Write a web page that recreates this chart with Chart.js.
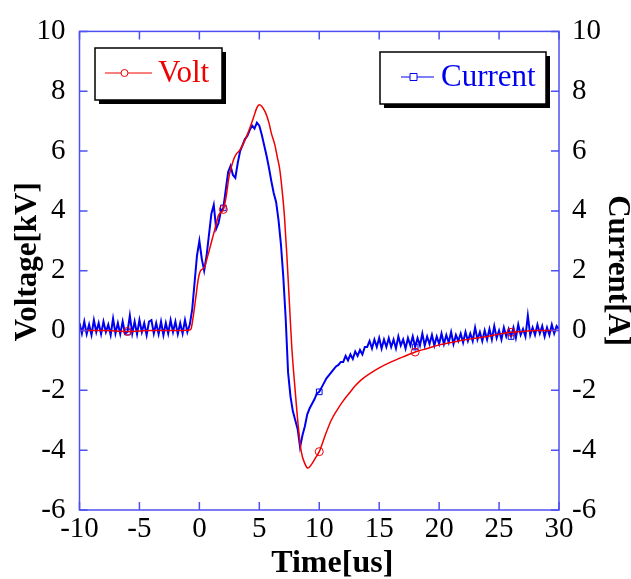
<!DOCTYPE html>
<html>
<head>
<meta charset="utf-8">
<title>Voltage / Current waveform</title>
<script src="https://cdn.jsdelivr.net/npm/chart.js@4.4.1/dist/chart.umd.min.js"></script>
<style>
    html, body { margin: 0; padding: 0; background: #fff; }
    #wrap { width: 631px; height: 579px; }
</style>
</head>
<body>
<div id="wrap"><canvas id="grafico" width="631" height="579"></canvas></div>
<script>
// ── DATA ──────────────────────────────────────
// Voltage trace (kV)
const voltTime = [-10, -8, -6, -4, -2, -0.8, -0.7, -0.5, -0.3, -0.1,
    0.1, 0.4, 0.7, 1.0, 1.3, 1.6, 2.0, 2.2, 2.5, 2.8,
    3.0, 3.4, 4.0, 4.5, 4.8, 5.0, 5.2, 5.5, 5.8, 6.0,
    6.3, 6.5, 6.7, 6.9, 7.1, 7.3, 7.5, 7.7, 8.0, 8.25,
    8.5, 8.8, 9.05, 9.4, 9.7, 10, 10.5, 11, 11.5, 12,
    12.5, 13, 13.5, 14, 15, 16, 17, 18, 19, 20,
    21, 22, 23, 24, 25, 26, 27, 28, 29, 30];
const volt = [0, 0, -0.03, 0, 0, 0.02, 0.05, 0.5, 1.1, 1.7,
    2.0, 2.1, 2.5, 2.95, 3.4, 3.85, 4.05, 4.4, 5.2, 5.65,
    5.85, 6.05, 6.55, 7.1, 7.45, 7.55, 7.5, 7.3, 6.95, 6.6,
    6.2, 5.8, 5.4, 4.7, 3.8, 2.5, 1.0, -0.5, -2.05, -3.2,
    -4.05, -4.45, -4.6, -4.45, -4.25, -4.05, -3.5, -3.0, -2.65, -2.35,
    -2.1, -1.85, -1.65, -1.5, -1.25, -1.05, -0.88, -0.72, -0.6, -0.48,
    -0.4, -0.32, -0.26, -0.2, -0.12, -0.06, -0.03, 0, 0, 0];

// Current trace (A), sampled every 0.2 us
const currentTime = [
    -10, -9.8, -9.6, -9.4, -9.2, -9, -8.8, -8.6, -8.4, -8.2,
    -8, -7.8, -7.6, -7.4, -7.2, -7, -6.8, -6.6, -6.4, -6.2,
    -6, -5.8, -5.6, -5.4, -5.2, -5, -4.8, -4.6, -4.4, -4.2,
    -4, -3.8, -3.6, -3.4, -3.2, -3, -2.8, -2.6, -2.4, -2.2,
    -2, -1.8, -1.6, -1.4, -1.2, -1, -0.8, -0.6, -0.4, -0.2,
    0, 0.2, 0.4, 0.6, 0.8, 1, 1.2, 1.4, 1.6, 1.8,
    2, 2.2, 2.4, 2.6, 2.8, 3, 3.2, 3.4, 3.6, 3.8,
    4, 4.2, 4.4, 4.6, 4.8, 5, 5.2, 5.4, 5.6, 5.8,
    6, 6.2, 6.4, 6.6, 6.8, 7, 7.2, 7.4, 7.6, 7.8,
    8, 8.2, 8.4, 8.6, 8.8, 9, 9.2, 9.4, 9.6, 9.8,
    10, 10.2, 10.4, 10.6, 10.8, 11, 11.2, 11.4, 11.6, 11.8,
    12, 12.2, 12.4, 12.6, 12.8, 13, 13.2, 13.4, 13.6, 13.8,
    14, 14.2, 14.4, 14.6, 14.8, 15, 15.2, 15.4, 15.6, 15.8,
    16, 16.2, 16.4, 16.6, 16.8, 17, 17.2, 17.4, 17.6, 17.8,
    18, 18.2, 18.4, 18.6, 18.8, 19, 19.2, 19.4, 19.6, 19.8,
    20, 20.2, 20.4, 20.6, 20.8, 21, 21.2, 21.4, 21.6, 21.8,
    22, 22.2, 22.4, 22.6, 22.8, 23, 23.2, 23.4, 23.6, 23.8,
    24, 24.2, 24.4, 24.6, 24.8, 25, 25.2, 25.4, 25.6, 25.8,
    26, 26.2, 26.4, 26.6, 26.8, 27, 27.2, 27.4, 27.6, 27.8,
    28, 28.2, 28.4, 28.6, 28.8, 29, 29.2, 29.4, 29.6, 29.8,
    30];
const current = [
    0.25, -0.1, 0.3, -0.12, 0.2, -0.15, 0.35, -0.05, 0.25, -0.12,
    0.3, -0.05, 0.2, -0.15, 0.4, -0.1, 0.25, -0.12, 0.3, -0.1,
    -0.05, 0.5, -0.1, 0.3, -0.12, 0.35, -0.05, 0.25, -0.15, 0.3,
    0.35, -0.1, 0.25, -0.12, 0.3, -0.15, 0.25, -0.1, 0.35, -0.05,
    0.3, -0.12, 0.25, -0.1, 0.35, -0.05, 0.2, 0.7, 1.6, 2.5,
    3.0, 2.4, 2.0, 2.5, 3.2, 3.9, 4.2, 3.4, 3.6, 4.0,
    4.1, 4.7, 5.3, 5.5, 5.2, 5.1, 5.6, 6.0, 6.2, 6.4,
    6.5, 6.7, 6.85, 6.75, 6.95, 6.85, 6.55, 6.2, 5.85, 5.45,
    5.0, 4.6, 4.3, 3.7, 2.9, 1.8, 0.4, -1.4, -2.2, -2.7,
    -3.0, -3.3, -3.9, -3.5, -3.2, -2.8, -2.6, -2.45, -2.3, -2.1,
    -2.05, -1.9, -1.75, -1.6, -1.5, -1.4, -1.3, -1.2, -1.15, -1.05,
    -1.05, -0.85, -1.0, -0.8, -0.95, -0.7, -0.85, -0.65, -0.8, -0.55,
    -0.55, -0.35, -0.6, -0.3, -0.55, -0.25, -0.6, -0.3, -0.55, -0.25,
    -0.55, -0.3, -0.6, -0.2, -0.5, -0.3, -0.6, -0.25, -0.5, -0.2,
    -0.55, -0.25, -0.5, -0.1, -0.5, -0.2, -0.45, -0.15, -0.5, -0.2,
    -0.45, -0.1, -0.45, -0.15, -0.4, -0.05, -0.45, -0.15, -0.35, -0.1,
    -0.4, -0.05, -0.35, -0.1, -0.35, 0.1, -0.3, -0.05, -0.35, 0.0,
    -0.3, 0.05, -0.3, 0.15, -0.25, 0.0, -0.3, 0.1, -0.2, 0.05,
    -0.2, 0.1, -0.25, 0.2, -0.15, 0.05, -0.2, 0.5, -0.15, 0.1,
    -0.15, 0.2, -0.1, 0.15, -0.2, 0.1, -0.15, 0.2, -0.1, 0.15,
    0.05];

// Times where the plotting program put a symbol on each trace
const markerTimes = [-6, 2, 10, 18, 26];

// Axis ranges / tick steps
const xRange = [-10, 30];
const yRange = [-6, 10];
const xStep = 5;
const yStep = 2;

// ── STYLE ─────────────────────────────────────
const SERIF = "'Times New Roman', 'Liberation Serif', serif";
const AXIS_BLUE = '#4f4ff2';
const ROJO = '#f00000';
const AZUL = '#0000f0';

const toPoints = (xs, ys) => xs.map((x, i) => ({ x: x, y: ys[i] }));
const markerRadius = (xs, r) => xs.map(x => markerTimes.includes(x) ? r : 0);

// Frame + inward ticks, like the original plotting program
const marcoPlugin = {
    id: 'marco',
    afterDatasetsDraw(chart) {
        const { ctx, chartArea: a, scales } = chart;
        const len = 8;
        ctx.save();
        ctx.strokeStyle = AXIS_BLUE;
        ctx.lineWidth = 1.5;
        ctx.strokeRect(a.left, a.top, a.right - a.left, a.bottom - a.top);
        ctx.beginPath();
        scales.x.ticks.forEach(t => {
            const px = scales.x.getPixelForValue(t.value);
            ctx.moveTo(px, a.bottom); ctx.lineTo(px, a.bottom - len);
            ctx.moveTo(px, a.top); ctx.lineTo(px, a.top + len);
        });
        scales.y.ticks.forEach(t => {
            const py = scales.y.getPixelForValue(t.value);
            ctx.moveTo(a.left, py); ctx.lineTo(a.left + len, py);
        });
        scales.y2.ticks.forEach(t => {
            const py = scales.y2.getPixelForValue(t.value);
            ctx.moveTo(a.right, py); ctx.lineTo(a.right - len, py);
        });
        ctx.stroke();
        ctx.restore();
    }
};

// Axis titles (bold serif), placed a little off-centre as in the original
const titulosPlugin = {
    id: 'titulos',
    afterDraw(chart) {
        const { ctx, chartArea: a } = chart;
        const midX = (a.left + a.right) / 2;
        const midY = (a.top + a.bottom) / 2;
        ctx.save();
        ctx.fillStyle = '#000';
        ctx.textAlign = 'center';
        ctx.textBaseline = 'middle';

        ctx.font = `bold 32px ${SERIF}`;
        ctx.fillText('Time[us]', midX + 13, chart.height - 15);

        ctx.font = `bold 31px ${SERIF}`;
        ctx.save();
        ctx.translate(28, midY - 9);
        ctx.rotate(-Math.PI / 2);
        ctx.fillText('Voltage[kV]', 0, 0);
        ctx.restore();

        ctx.save();
        ctx.translate(chart.width - 14, midY);
        ctx.rotate(Math.PI / 2);
        ctx.fillText('Current[A]', 0, 0);
        ctx.restore();
        ctx.restore();
    }
};

// Two separate boxed legends with a drop shadow
const leyendaPlugin = {
    id: 'leyenda',
    afterDraw(chart) {
        const ctx = chart.ctx;
        const cajas = [
            { x: 95, y: 48, w: 127, h: 52, color: ROJO, texto: 'Volt', simbolo: 'circle', l0: 105, l1: 152, tx: 158 },
            { x: 380, y: 52, w: 166, h: 52, color: AZUL, texto: 'Current', simbolo: 'rect', l0: 401, l1: 434, tx: 441 }
        ];
        ctx.save();
        cajas.forEach(c => {
            ctx.fillStyle = '#000';
            ctx.fillRect(c.x + 4, c.y + 4, c.w, c.h);
            ctx.fillStyle = '#fff';
            ctx.fillRect(c.x, c.y, c.w, c.h);
            ctx.strokeStyle = '#000';
            ctx.lineWidth = 1.5;
            ctx.strokeRect(c.x, c.y, c.w, c.h);

            const ly = c.y + c.h / 2 - 1;
            const mx = (c.l0 + c.l1) / 2 - 4;
            ctx.strokeStyle = c.color;
            ctx.lineWidth = 1;
            ctx.beginPath();
            ctx.moveTo(c.l0, ly); ctx.lineTo(c.l1, ly);
            ctx.stroke();
            ctx.beginPath();
            if (c.simbolo === 'circle') ctx.arc(mx, ly, 3.5, 0, Math.PI * 2);
            else ctx.rect(mx - 3.5, ly - 3.5, 7, 7);
            ctx.fillStyle = '#fff';
            ctx.fill();
            ctx.stroke();

            ctx.fillStyle = c.color;
            ctx.font = `31px ${SERIF}`;
            ctx.textBaseline = 'middle';
            ctx.fillText(c.texto, c.tx, ly + 1);
        });
        ctx.restore();
    }
};

const tickFont = { family: SERIF, size: 29 };

new Chart(document.getElementById('grafico'), {
    type: 'line',
    data: {
        datasets: [
            {
                label: 'Volt',
                data: toPoints(voltTime, volt),
                borderColor: ROJO,
                borderWidth: 1.5,
                pointStyle: 'circle',
                pointRadius: markerRadius(voltTime, 4),
                pointBorderColor: ROJO,
                pointBackgroundColor: 'rgba(0,0,0,0)',
                pointBorderWidth: 1,
                cubicInterpolationMode: 'monotone',
                yAxisID: 'y'
            },
            {
                label: 'Current',
                data: toPoints(currentTime, current),
                borderColor: AZUL,
                borderWidth: 2,
                pointStyle: 'rect',
                pointRadius: markerRadius(currentTime, 4),
                pointBorderColor: AZUL,
                pointBackgroundColor: 'rgba(0,0,0,0)',
                pointBorderWidth: 1,
                tension: 0,
                yAxisID: 'y2'
            }
        ]
    },
    options: {
        responsive: false,
        animation: false,
        devicePixelRatio: 1,
        layout: { padding: { top: 31, left: 0, right: 0, bottom: 0 } },
        plugins: {
            legend: { display: false },
            tooltip: { enabled: false }
        },
        scales: {
            x: {
                type: 'linear',
                min: xRange[0],
                max: xRange[1],
                ticks: { stepSize: xStep, color: '#000', font: tickFont, padding: 2, maxRotation: 0, autoSkip: false },
                grid: { display: false, drawTicks: false },
                border: { display: false },
                afterFit: s => { s.height = 69; }
            },
            y: {
                position: 'left',
                min: yRange[0],
                max: yRange[1],
                ticks: { stepSize: yStep, color: '#000', font: tickFont, padding: 14 },
                grid: { display: false, drawTicks: false },
                border: { display: false },
                afterFit: s => { s.width = 79.5; }
            },
            y2: {
                position: 'right',
                min: yRange[0],
                max: yRange[1],
                ticks: { stepSize: yStep, color: '#000', font: tickFont, padding: 13 },
                grid: { display: false, drawTicks: false },
                border: { display: false },
                afterFit: s => { s.width = 72; }
            }
        }
    },
    plugins: [marcoPlugin, titulosPlugin, leyendaPlugin]
});
</script>
</body>
</html>
